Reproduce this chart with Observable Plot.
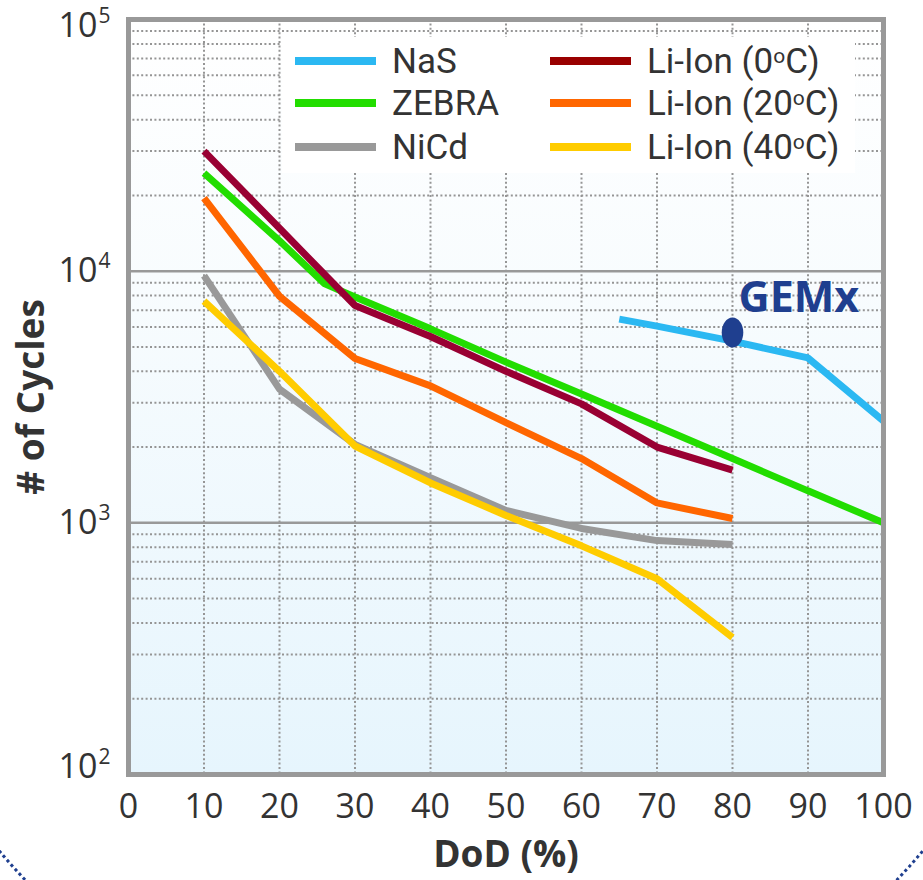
<!DOCTYPE html>
<html>
<head>
<meta charset="utf-8">
<script src="https://cdn.jsdelivr.net/npm/d3@7"></script>
<script src="https://cdn.jsdelivr.net/npm/@observablehq/plot@0.6"></script>
<style>
  html, body { margin: 0; padding: 0; background: #ffffff; }
  #wrap { position: relative; width: 923px; height: 880px; overflow: hidden; font-family: "Open Sans", sans-serif; }
  #legend { position: absolute; left: 282px; top: 37px; width: 573px; height: 136px; background: #ffffff; }
  .item { position: absolute; display: flex; align-items: center; height: 36px; line-height: 1; font-family: Roboto, "Open Sans", sans-serif; font-size: 35px; color: #333; white-space: nowrap; }
  .item .sw { width: 81px; height: 8px; margin-right: 16px; }
  .item sup { font-size: 60%; vertical-align: 0.5em; line-height: 0; }
  #deco { position: absolute; left: 0; top: 800px; width: 923px; height: 80px; overflow: hidden; pointer-events: none; }
  #deco div { position: absolute; left: -143px; top: -940px; width: 1208px; height: 1208px; border: 3px dotted #1f3f8f; border-radius: 50%; box-sizing: border-box; }
</style>
</head>
<body>
<div id="wrap"></div>
<script>
// ---- data ----
const xTicks = [0, 10, 20, 30, 40, 50, 60, 70, 80, 90, 100];
const xGrid = [10, 20, 30, 40, 50, 60, 70, 80, 90];
const yTicks = [100, 1000, 10000, 100000];
const yExps = ["2", "3", "4", "5"];
const yMajor = [1000, 10000];
const minorMantissas = [2, 3, 4, 5, 6, 7, 8, 9];
const minorDecades = [100, 1000, 10000];

const nasDoD = [65, 70, 80, 90, 100];
const nasCycles = [6450, 6050, 5270, 4520, 2540];

const zebraDoD = [10, 20, 26, 30, 40, 50, 60, 70, 80, 90, 100];
const zebraCycles = [24500, 13200, 8900, 7900, 5900, 4350, 3250, 2420, 1800, 1340, 1000];

const nicdDoD = [10, 20, 30, 40, 50, 60, 70, 80];
const nicdCycles = [9600, 3400, 2050, 1510, 1120, 950, 850, 820];

const li0DoD = [10, 20, 30, 40, 50, 60, 70, 80];
const li0Cycles = [30000, 14800, 7300, 5500, 4000, 2970, 2000, 1620];

const li20DoD = [10, 20, 30, 40, 50, 60, 70, 80];
const li20Cycles = [19500, 7950, 4500, 3500, 2500, 1800, 1200, 1040];

const li40DoD = [10, 20, 30, 40, 50, 60, 70, 80];
const li40Cycles = [7600, 4000, 2020, 1440, 1070, 810, 600, 350];

const gemxDoD = [80];
const gemxCycles = [5700];
const gemxLabel = "GEMx";

const xTitle = "DoD (%)";
const yTitle = "# of Cycles";

const seriesNames = ["NaS", "ZEBRA", "NiCd", "Li-Ion (0oC)", "Li-Ion (20oC)", "Li-Ion (40oC)"];
const lineColors = ["#2bb8f2", "#22dd00", "#999999", "#990033", "#ff6600", "#ffcc00"];
const legendColors = ["#2bb8f2", "#22dd00", "#999999", "#990000", "#ff6600", "#ffcc00"];

// ---- build ----
const toRows = (xs, ys) => xs.map((x, i) => ({x, y: ys[i]}));
const series = [
  toRows(nasDoD, nasCycles),
  toRows(zebraDoD, zebraCycles),
  toRows(nicdDoD, nicdCycles),
  toRows(li0DoD, li0Cycles),
  toRows(li20DoD, li20Cycles),
  toRows(li40DoD, li40Cycles)
];
const drawOrder = [1, 2, 5, 4, 3, 0];
const minorTicks = minorDecades.flatMap(d => minorMantissas.map(m => m * d));

const ellipseSymbol = {
  draw(ctx, size) {
    const ry = Math.sqrt(size / Math.PI), rx = ry * 0.72, k = 0.5523;
    ctx.moveTo(rx, 0);
    ctx.bezierCurveTo(rx, k * ry, k * rx, ry, 0, ry);
    ctx.bezierCurveTo(-k * rx, ry, -rx, k * ry, -rx, 0);
    ctx.bezierCurveTo(-rx, -k * ry, -k * rx, -ry, 0, -ry);
    ctx.bezierCurveTo(k * rx, -ry, rx, -k * ry, rx, 0);
    ctx.closePath();
  }
};

const gradientDefs = () => {
  const defs = d3.create("svg:defs");
  const g = defs.append("linearGradient").attr("id", "bgGrad")
    .attr("x1", 0).attr("y1", 0).attr("x2", 0).attr("y2", 1);
  g.append("stop").attr("offset", "0%").attr("stop-color", "#ffffff");
  g.append("stop").attr("offset", "35%").attr("stop-color", "#f8fcfe");
  g.append("stop").attr("offset", "100%").attr("stop-color", "#e6f5fd");
  return defs.node();
};

const yMin = yTicks[0], yMax = yTicks[yTicks.length - 1];
const tickFont = 34;
const titleFont = 37;

const chart = Plot.plot({
  width: 923,
  height: 880,
  marginLeft: 128,
  marginRight: 40,
  marginTop: 19,
  marginBottom: 106,
  style: {fontFamily: "'Open Sans', sans-serif", color: "#333", background: "transparent", overflow: "visible"},
  x: {domain: [xTicks[0], xTicks[xTicks.length - 1]], axis: null},
  y: {type: "log", domain: [yMin, yMax], axis: null},
  marks: [
    gradientDefs,
    Plot.frame({fill: "url(#bgGrad)", stroke: "none"}),
    Plot.ruleX(xGrid, {stroke: "#959595", strokeWidth: 2, strokeDasharray: "2,2.4"}),
    Plot.ruleY(minorTicks, {stroke: "#959595", strokeWidth: 2, strokeDasharray: "2,2.4"}),
    Plot.ruleY(yMajor, {stroke: "#999", strokeWidth: 2.5}),
    ...drawOrder.map(i => Plot.line(series[i], {
      x: "x", y: "y", stroke: lineColors[i], strokeWidth: 7,
      strokeLinejoin: "miter", strokeLinecap: "butt", clip: true
    })),
    Plot.dot(toRows(gemxDoD, gemxCycles), {x: "x", y: "y", r: 15, symbol: ellipseSymbol, fill: "#1f3f8f", stroke: "none"}),
    Plot.text(toRows(gemxDoD, gemxCycles), {x: "x", y: "y", text: () => gemxLabel, dx: 6, dy: -34,
      textAnchor: "start", fontSize: 43, fontWeight: "bold", fill: "#1f3f8f"}),
    Plot.frame({stroke: "#999", strokeWidth: 5}),
    // x tick labels
    Plot.text(xTicks, {x: d => d, frameAnchor: "bottom", lineAnchor: "middle", dy: 33, text: d => String(d), fontSize: tickFont, fill: "#333"}),
    // y tick labels: base "10" and exponent
    Plot.text(yTicks, {y: d => d, frameAnchor: "left", dx: -31, textAnchor: "end", text: () => "10", fontSize: tickFont, fill: "#333",
      filter: d => d !== yMin && d !== yMax}),
    Plot.text(yTicks, {y: d => d, frameAnchor: "left", dx: -31, dy: 7, textAnchor: "end", text: () => "10", fontSize: tickFont, fill: "#333",
      filter: d => d === yMax}),
    Plot.text(yTicks, {y: d => d, frameAnchor: "left", dx: -31, dy: -7, textAnchor: "end", text: () => "10", fontSize: tickFont, fill: "#333",
      filter: d => d === yMin}),
    Plot.text(yTicks, {y: d => d, frameAnchor: "left", dx: -30, dy: -10, textAnchor: "start", text: (d, i) => yExps[i], fontSize: 21, fill: "#333",
      filter: d => d !== yMin && d !== yMax}),
    Plot.text(yTicks, {y: d => d, frameAnchor: "left", dx: -30, dy: -3, textAnchor: "start", text: () => yExps[yExps.length - 1], fontSize: 21, fill: "#333",
      filter: d => d === yMax}),
    Plot.text(yTicks, {y: d => d, frameAnchor: "left", dx: -30, dy: -17, textAnchor: "start", text: () => yExps[0], fontSize: 21, fill: "#333",
      filter: d => d === yMin}),
    // axis titles
    Plot.text([xTitle], {frameAnchor: "bottom", lineAnchor: "middle", textAnchor: "middle", dy: 81, text: d => d, fontSize: titleFont, fontWeight: "bold", fill: "#333"}),
    Plot.text([yTitle], {frameAnchor: "left", lineAnchor: "middle", textAnchor: "middle", dx: -96, rotate: -90, text: d => d, fontSize: titleFont, fontWeight: "bold", fill: "#333"})
  ]
});

const wrap = document.getElementById("wrap");
wrap.appendChild(chart);

// legend (HTML overlay inside the plot area)
const legend = document.createElement("div");
legend.id = "legend";
const cols = [[0, 1, 2], [3, 4, 5]];
const colLeft = [13, 268];
const rowTop = [6, 48, 92];
cols.forEach((col, c) => col.forEach((si, r) => {
  const item = document.createElement("div");
  item.className = "item";
  item.style.left = colLeft[c] + "px";
  item.style.top = rowTop[r] + "px";
  const sw = document.createElement("span");
  sw.className = "sw";
  sw.style.background = legendColors[si];
  item.appendChild(sw);
  const label = document.createElement("span");
  label.innerHTML = seriesNames[si].replace(/(\d)oC/, "$1<sup>o</sup>C");
  item.appendChild(label);
  legend.appendChild(item);
}));
wrap.appendChild(legend);

const deco = document.createElement("div");
deco.id = "deco";
deco.appendChild(document.createElement("div"));
wrap.appendChild(deco);
</script>
</body>
</html>
